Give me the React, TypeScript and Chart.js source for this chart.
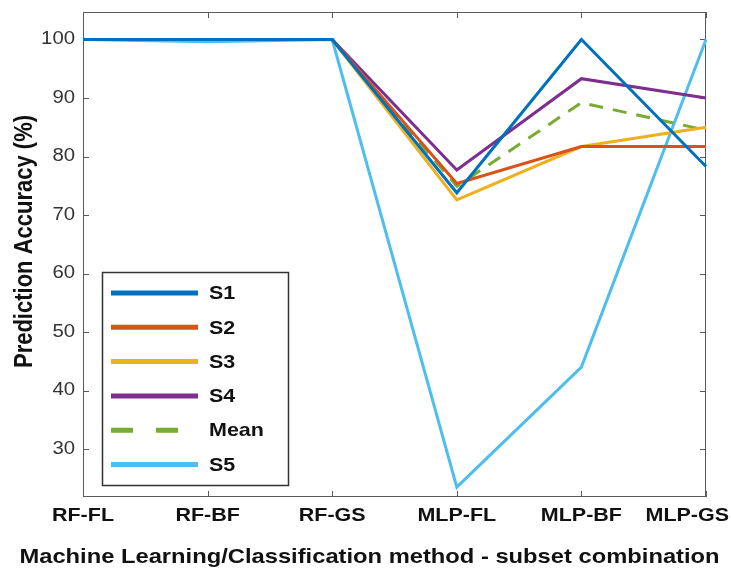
import React, { useEffect, useRef } from "react";
import { Chart, registerables } from "chart.js";

Chart.register(...registerables);

const categories = ["RF-FL", "RF-BF", "RF-GS", "MLP-FL", "MLP-BF", "MLP-GS"];
const s1 = [100, 100, 100, 73.8, 100, 78.3];
const s2 = [100, 100, 100, 75.4, 81.7, 81.7];
const s3 = [100, 100, 100, 72.6, 81.7, 85];
const s4 = [100, 100, 100, 77.7, 93.3, 90];
const meanVals = [100, 100, 100, 74.9, 89.2, 84.5];
const s5 = [100, 99.6, 100, 23.5, 44, 100];
const yTicks = [30, 40, 50, 60, 70, 80, 90, 100];
const seriesNames = ["S1", "S2", "S3", "S4", "Mean", "S5"];
const seriesColors = ["#0072BD", "#D95319", "#EDB120", "#7E2F8E", "#77AC30", "#4DBEEE"];
const xTitle = "Machine Learning/Classification method - subset combination";
const yTitle = "Prediction Accuracy (%)";

const FONT = "Arial, 'Liberation Sans', Helvetica, sans-serif";
const STRETCH = 1.13;

function stretchedText(ctx: any, text: string, x: number, y: number, align: string, rot = 0) {
  ctx.save();
  ctx.translate(x, y);
  if (rot) {
    ctx.rotate(rot);
    ctx.scale(1, STRETCH);
  } else {
    ctx.scale(STRETCH, 1);
  }
  ctx.textAlign = align;
  ctx.textBaseline = "middle";
  ctx.fillText(text, 0, 0);
  ctx.restore();
}

const framePlugin = {
  id: "frame",
  beforeDatasetsDraw(chart: any) {
    const { ctx, chartArea: a, scales } = chart;
    ctx.save();
    ctx.strokeStyle = "#5a5a5a";
    ctx.lineWidth = 1;
    ctx.strokeRect(a.left + 0.5, a.top + 0.5, a.right - a.left - 1, a.bottom - a.top - 1);
    const tl = 6;
    ctx.beginPath();
    yTicks.forEach((v) => {
      const y = Math.round(scales.y.getPixelForValue(v)) + 0.5;
      ctx.moveTo(a.left, y);
      ctx.lineTo(a.left + tl, y);
      ctx.moveTo(a.right, y);
      ctx.lineTo(a.right - tl, y);
    });
    categories.forEach((_c, i) => {
      const x = Math.round(scales.x.getPixelForValue(i)) + 0.5;
      ctx.moveTo(x, a.bottom);
      ctx.lineTo(x, a.bottom - tl);
      ctx.moveTo(x, a.top);
      ctx.lineTo(x, a.top + tl);
    });
    ctx.stroke();

    // y tick labels
    ctx.fillStyle = "#333333";
    ctx.font = `18px ${FONT}`;
    yTicks.forEach((v) => {
      stretchedText(ctx, String(v), a.left - 8, scales.y.getPixelForValue(v), "right");
    });

    // x tick labels
    ctx.fillStyle = "#111111";
    ctx.font = `bold 19px ${FONT}`;
    const W = chart.width;
    categories.forEach((c, i) => {
      const x = scales.x.getPixelForValue(i);
      const w = ctx.measureText(c).width * STRETCH;
      let left = x - w / 2;
      if (left + w > W - 2) left = W - 2 - w;
      if (left < 2) left = 2;
      stretchedText(ctx, c, left, a.bottom + 19, "left");
    });

    // axis titles
    ctx.font = `bold 21px ${FONT}`;
    stretchedText(ctx, xTitle, (a.left + a.right) / 2 - 25, a.bottom + 60, "center");
    ctx.font = `bold 22px ${FONT}`;
    stretchedText(ctx, yTitle, 25, (a.top + a.bottom) / 2 - 13, "center", -Math.PI / 2);
    ctx.restore();
  },
  afterDatasetsDraw(chart: any) {
    const { ctx } = chart;
    ctx.save();
    const bx = 102, by = 272, bw = 186, bh = 213;
    ctx.fillStyle = "#ffffff";
    ctx.fillRect(bx, by, bw, bh);
    ctx.strokeStyle = "#333333";
    ctx.lineWidth = 1.5;
    ctx.strokeRect(bx + 0.5, by + 0.5, bw, bh);
    const rowY0 = by + 21;
    const rowGap = 34.3;
    chart.data.datasets.forEach((ds: any, i: number) => {
      const y = rowY0 + i * rowGap;
      ctx.beginPath();
      ctx.strokeStyle = ds.borderColor;
      ctx.lineWidth = 5;
      ctx.setLineDash(ds.label === "Mean" ? [22, 23] : []);
      ctx.moveTo(bx + 9, y);
      ctx.lineTo(bx + 96, y);
      ctx.stroke();
      ctx.setLineDash([]);
      ctx.fillStyle = "#111111";
      ctx.font = `bold 19px ${FONT}`;
      stretchedText(ctx, ds.label, bx + 107, y + 1, "left");
    });
    ctx.restore();
  },
};

export default function App() {
  const ref = useRef<HTMLCanvasElement | null>(null);
  useEffect(() => {
    if (!ref.current) return;
    const data = [s1, s2, s3, s4, meanVals, s5];
    const chart = new Chart(ref.current, {
      type: "line",
      data: {
        labels: categories,
        datasets: data.map((d, i) => ({
          label: seriesNames[i],
          data: d,
          borderColor: seriesColors[i],
          backgroundColor: seriesColors[i],
          borderWidth: 3,
          borderDash: seriesNames[i] === "Mean" ? [14, 10] : [],
          pointRadius: 0,
          tension: 0,
          fill: false,
        })),
      },
      options: {
        animation: false,
        responsive: false,
        maintainAspectRatio: false,
        layout: { padding: { top: 12, right: 25, left: 0, bottom: 0 } },
        plugins: {
          legend: { display: false },
          tooltip: { enabled: false },
        },
        scales: {
          x: {
            type: "category",
            offset: false,
            grid: { display: false, drawTicks: false },
            border: { display: false },
            ticks: { display: false },
            afterFit: (s: any) => {
              s.height = 74;
              s.paddingLeft = 0;
              s.paddingRight = 0;
            },
          },
          y: {
            min: 21.8,
            max: 104.7,
            grid: { display: false, drawTicks: false },
            border: { display: false },
            afterBuildTicks: (s: any) => {
              s.ticks = yTicks.map((v) => ({ value: v }));
            },
            ticks: { display: false },
            afterFit: (s: any) => {
              s.width = 83;
              s.paddingTop = 0;
              s.paddingBottom = 0;
            },
          },
        },
      },
      plugins: [framePlugin],
    });
    return () => chart.destroy();
  }, []);
  return (
    <div style={{ position: "fixed", left: 0, top: 0, width: 731, height: 571, background: "#fff" }}>
      <canvas ref={ref} width={731} height={571} style={{ width: 731, height: 571, display: "block" }} />
    </div>
  );
}
